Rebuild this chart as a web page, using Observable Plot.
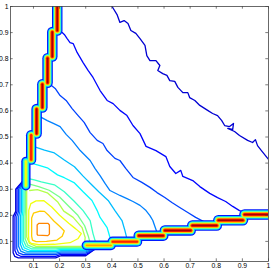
<!DOCTYPE html>
<html><head><meta charset="utf-8">
<script src="https://cdn.jsdelivr.net/npm/d3@7"></script>
<script src="https://cdn.jsdelivr.net/npm/@observablehq/plot@0.6"></script>
<style>html,body{margin:0;padding:0;background:#fff;overflow:hidden;}</style>
</head><body><div id="chart"></div>
<script>
// ---- tick labels ----
const xTicks = [0.1,0.2,0.3,0.4,0.5,0.6,0.7,0.8,0.9,1];
const xTickLabels = ["0.1","0.2","0.3","0.4","0.5","0.6","0.7","0.8","0.9","1"];
const yTicks = [0.1,0.2,0.3,0.4,0.5,0.6,0.7,0.8,0.9,1];
const yTickLabels = ["0.1","0.2","0.3","0.4","0.5","0.6","0.7","0.8","0.9","1"];

// ---- contour levels (position on the jet colour map), outermost first ----
const levelValues = [0.075,0.13,0.19,0.25,0.31,0.37,0.43,0.49,0.55,0.61,0.675,0.745];

// ---- contour paths (x, y) ----
const inner1 = [[0.401,1.0],[0.420,0.969],[0.431,0.939],[0.447,0.946],[0.462,0.935],[0.473,0.908],[0.492,0.897],[0.508,0.877],[0.527,0.851],[0.534,0.812],[0.546,0.793],[0.569,0.793],[0.584,0.774],[0.576,0.755],[0.595,0.743],[0.611,0.736],[0.622,0.716],[0.641,0.713],[0.653,0.690],[0.672,0.670],[0.691,0.670],[0.698,0.651],[0.718,0.640],[0.737,0.621],[0.767,0.602],[0.786,0.590],[0.805,0.582],[0.821,0.563],[0.832,0.544],[0.851,0.540],[0.866,0.552],[0.863,0.529],[0.844,0.533],[0.870,0.521],[0.889,0.506],[0.920,0.487],[0.939,0.479],[0.950,0.490],[0.958,0.467],[0.973,0.448],[1.0,0.414]];
const inner2 = [[0.19,0.915],[0.202,0.908],[0.218,0.893],[0.229,0.877],[0.240,0.862],[0.252,0.858],[0.267,0.824],[0.290,0.785],[0.309,0.755],[0.328,0.728],[0.355,0.678],[0.382,0.640],[0.405,0.628],[0.431,0.602],[0.458,0.582],[0.481,0.544],[0.508,0.513],[0.531,0.464],[0.569,0.448],[0.607,0.425],[0.622,0.387],[0.645,0.360],[0.664,0.372],[0.672,0.349],[0.710,0.333],[0.737,0.310],[0.775,0.284],[0.805,0.268],[0.836,0.253],[0.863,0.234],[0.889,0.218],[0.912,0.211],[0.92,0.2]];
const inner3 = [[0.16,0.705],[0.164,0.701],[0.183,0.686],[0.202,0.659],[0.225,0.640],[0.248,0.609],[0.271,0.582],[0.294,0.556],[0.317,0.517],[0.344,0.487],[0.366,0.475],[0.382,0.448],[0.412,0.418],[0.431,0.410],[0.454,0.379],[0.481,0.345],[0.515,0.326],[0.546,0.307],[0.573,0.287],[0.603,0.268],[0.630,0.249],[0.660,0.230],[0.691,0.211],[0.721,0.192],[0.752,0.176]];
const inner4 = [[0.125,0.578],[0.13,0.575],[0.153,0.563],[0.176,0.552],[0.202,0.540],[0.225,0.510],[0.248,0.487],[0.279,0.448],[0.317,0.410],[0.336,0.379],[0.355,0.352],[0.374,0.322],[0.393,0.295],[0.431,0.276],[0.458,0.264],[0.481,0.253],[0.508,0.238],[0.531,0.218],[0.546,0.199],[0.557,0.180],[0.565,0.157],[0.573,0.134]];
const inner5 = [[0.105,0.462],[0.142,0.45],[0.18,0.439],[0.218,0.412],[0.257,0.386],[0.29,0.35],[0.32,0.32],[0.35,0.29],[0.386,0.257],[0.412,0.218],[0.439,0.18],[0.45,0.142],[0.458,0.11]];
const inner6 = [[0.09,0.40],[0.115,0.393],[0.153,0.382],[0.192,0.355],[0.218,0.344],[0.257,0.324],[0.29,0.29],[0.324,0.257],[0.344,0.218],[0.355,0.192],[0.382,0.153],[0.393,0.115],[0.40,0.095]];
const inner7 = [[0.085,0.34],[0.103,0.336],[0.13,0.328],[0.18,0.317],[0.218,0.29],[0.255,0.255],[0.29,0.218],[0.317,0.18],[0.328,0.13],[0.336,0.103],[0.34,0.085]];
const inner8 = [[0.082,0.32],[0.12,0.31],[0.16,0.296],[0.2,0.27],[0.235,0.235],[0.27,0.2],[0.296,0.16],[0.31,0.12],[0.32,0.082]];
const inner9 = [[0.085,0.295],[0.115,0.298],[0.153,0.286],[0.192,0.252],[0.216,0.216],[0.252,0.192],[0.286,0.153],[0.298,0.115],[0.295,0.085]];

const outer1 = [[0.062,0.335],[0.032,0.30],[0.032,0.215],[0.022,0.195],[0.022,0.057],[0.028,0.043],[0.042,0.037],[0.185,0.037],[0.205,0.045],[0.30,0.045],[0.335,0.07]];
const outer2 = [[0.062,0.335],[0.037,0.30],[0.037,0.215],[0.029,0.195],[0.029,0.065],[0.036,0.05],[0.051,0.043],[0.185,0.043],[0.205,0.05],[0.30,0.05],[0.335,0.07]];
const outer3 = [[0.064,0.335],[0.043,0.30],[0.043,0.215],[0.036,0.195],[0.036,0.073],[0.043,0.056],[0.06,0.049],[0.185,0.049],[0.205,0.055],[0.30,0.055],[0.335,0.072]];
const outer4 = [[0.066,0.335],[0.048,0.30],[0.048,0.215],[0.043,0.195],[0.043,0.081],[0.051,0.063],[0.069,0.055],[0.185,0.055],[0.205,0.06],[0.30,0.06],[0.335,0.074]];
const outer5 = [[0.068,0.335],[0.054,0.30],[0.054,0.215],[0.05,0.195],[0.05,0.089],[0.058,0.069],[0.078,0.061],[0.185,0.061],[0.205,0.065],[0.30,0.065],[0.335,0.076]];
const outer6 = [[0.07,0.335],[0.059,0.30],[0.059,0.215],[0.056,0.195],[0.056,0.096],[0.065,0.075],[0.086,0.066],[0.185,0.066],[0.205,0.069],[0.30,0.069],[0.335,0.078]];
const outer7 = [[0.072,0.335],[0.064,0.30],[0.064,0.215],[0.062,0.195],[0.062,0.103],[0.072,0.081],[0.094,0.071],[0.185,0.071],[0.205,0.073],[0.30,0.073],[0.335,0.08]];
const outer8 = [[0.074,0.335],[0.069,0.30],[0.069,0.215],[0.068,0.195],[0.068,0.11],[0.078,0.086],[0.102,0.076],[0.185,0.076],[0.205,0.077],[0.30,0.077],[0.335,0.082]];
const outer9 = [[0.076,0.32],[0.074,0.29],[0.074,0.117],[0.085,0.092],[0.11,0.081],[0.29,0.081],[0.32,0.076]];

const closed10 = [[0.081,0.12],[0.082,0.22],[0.09,0.245],[0.11,0.255],[0.14,0.256],[0.17,0.232],[0.2,0.2],[0.235,0.17],[0.262,0.148],[0.283,0.13],[0.27,0.11],[0.24,0.095],[0.18,0.089],[0.12,0.088],[0.092,0.092],[0.083,0.1]];
const closed11 = [[0.093,0.12],[0.093,0.19],[0.1,0.208],[0.125,0.216],[0.142,0.215],[0.16,0.198],[0.178,0.178],[0.2,0.158],[0.218,0.14],[0.21,0.12],[0.19,0.105],[0.15,0.1],[0.11,0.099],[0.096,0.105]];
const closed12 = [[0.116,0.124],[0.155,0.122],[0.161,0.128],[0.161,0.163],[0.156,0.169],[0.12,0.169],[0.114,0.163],[0.114,0.128]];

// ---- ridge segments (stair-stepped ridges) ----
const vCenter = [0.191,0.172,0.154,0.134,0.112,0.091,0.071];
const vStart  = [0.905,0.805,0.705,0.61,0.51,0.41,0.31];
const vEnd    = [1.03,0.905,0.805,0.705,0.61,0.51,0.41];
const vPeak   = [1,1,1,1,1,0.92,0.66];
const hCenter = [0.203,0.181,0.161,0.142,0.122,0.099,0.085];
const hStart  = [0.905,0.805,0.705,0.60,0.50,0.40,0.30];
const hEnd    = [1.03,0.905,0.805,0.705,0.60,0.50,0.40];
const hPeak   = [1,1,1,1,1,0.9,0.76];
const ridgeLevels = [0.15,0.3,0.4,0.5,0.62,0.72,0.84,0.96];

// ---- styles ----
const bandScale = 7.62;   // px width of a ridge band at a given level
const inset = 0.003;
const jet = d3.scaleLinear().domain([0,0.125,0.375,0.625,0.875,1])
  .range(["#00008f","#0000ff","#00ffff","#ffff00","#ff0000","#800000"]).clamp(true);

const paths = [
  [inner1,0,false],[inner2,1,false],[inner3,2,false],[inner4,3,false],[inner5,4,false],
  [inner6,5,false],[inner7,6,false],[inner8,7,false],[inner9,8,false],
  [outer1,0,false],[outer2,1,false],[outer3,2,false],[outer4,3,false],[outer5,4,false],
  [outer6,5,false],[outer7,6,false],[outer8,7,false],[outer9,8,false],
  [closed10,9,true],[closed11,10,true],[closed12,11,true]
];

const segs = [];
vCenter.forEach((c,i) => segs.push({id:"v"+i, peak:vPeak[i], pts:[{x:c,y:vStart[i]+inset},{x:c,y:vEnd[i]-inset}]}));
hCenter.forEach((c,i) => segs.push({id:"h"+i, peak:hPeak[i], pts:[{x:hStart[i]+inset,y:c},{x:hEnd[i]-inset,y:c}]}));

const marks = [];
paths.forEach(([pts, k, closed]) => {
  const lv = levelValues[k];
  marks.push(Plot.line(pts, {x: d => d[0], y: d => d[1], stroke: () => lv, strokeWidth: 1.3,
    curve: closed ? "linear-closed" : "linear", clip: true}));
});
ridgeLevels.forEach((lv) => {
  const rows = segs.filter(s => s.peak > lv).flatMap(s => s.pts.map(p => ({x:p.x, y:p.y, id:s.id,
    w: bandScale * Math.sqrt(Math.log(s.peak / lv))})));
  marks.push(Plot.line(rows, {x:"x", y:"y", z:"id", stroke: () => lv, strokeWidth: "w",
    strokeLinecap: "round", clip: true}));
});
marks.push(Plot.frame({stroke:"#444", strokeWidth:0.8}));
marks.push(Plot.ruleX(xTicks, {x: d => d, insetTop: 252.3, stroke:"#444", strokeWidth:0.7}));
marks.push(Plot.ruleX(xTicks, {x: d => d, insetBottom: 252.3, stroke:"#444", strokeWidth:0.7}));
marks.push(Plot.ruleY(yTicks, {y: d => d, insetRight: 255.3, stroke:"#444", strokeWidth:0.7}));
marks.push(Plot.ruleY(yTicks, {y: d => d, insetLeft: 255.3, stroke:"#444", strokeWidth:0.7}));

const chart = Plot.plot({
  width: 273, height: 273,
  marginLeft: 10, marginRight: 5, marginTop: 6, marginBottom: 12,
  style: {background:"#fff", fontFamily:"'Liberation Sans', Arial, sans-serif", fontSize:"6.8px", overflow:"visible"},
  x: {domain:[0.012,1], ticks: xTicks, tickFormat: d => xTickLabels[xTicks.indexOf(d)], tickSize: 0, tickPadding: 1.5, label: null},
  y: {domain:[0.023,1], ticks: yTicks, tickFormat: d => yTickLabels[yTicks.indexOf(d)], tickSize: 0, tickPadding: 2, label: null},
  color: {type:"linear", domain:[0,1], interpolate: t => jet(t)},
  marks
});
document.getElementById("chart").appendChild(chart);
</script></body></html>
